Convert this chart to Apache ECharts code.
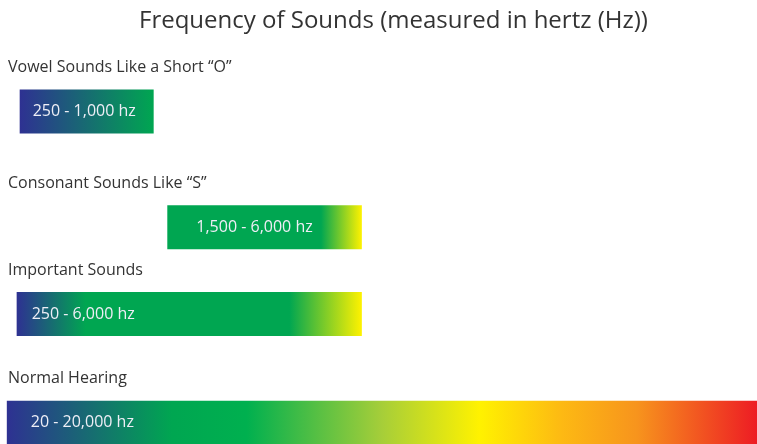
<!DOCTYPE html>
<html>
<head>
<meta charset="utf-8">
<script src="https://cdn.jsdelivr.net/npm/echarts@6/dist/echarts.min.js"></script>
<style>
html,body{margin:0;padding:0;background:#fff;}
#chart{width:757px;height:444px;}
</style>
</head>
<body>
<div id="chart"></div>
<script>
// ---- data ----
const titleText = 'Frequency of Sounds (measured in hertz (Hz))';
const categories = ['Vowel Sounds Like a Short \u201cO\u201d', 'Consonant Sounds Like \u201cS\u201d', 'Important Sounds', 'Normal Hearing'];
const rangeLabels = ['250 - 1,000 hz', '1,500 - 6,000 hz', '250 - 6,000 hz', '20 - 20,000 hz'];
// bar extents on the picture's unlabelled (non-linear) frequency strip, 0..100
const barStart = [2.6, 22.1, 2.2, 0.9];
const barEnd = [20.3, 47.8, 47.8, 100];

// ---- styles ----
const BLUE = '#2e3192', GREEN = '#00a651', YELLOW = '#fff200';
const gradients = [
  [[0, BLUE], [1, GREEN]],
  [[0, GREEN], [0.79, GREEN], [1, YELLOW]],
  [[0, BLUE], [0.2, GREEN], [0.79, GREEN], [1, YELLOW]],
  [[0, BLUE], [0.22, GREEN], [0.32, '#00b04f'], [0.5, '#a6ce39'], [0.63, YELLOW], [0.74, '#fdb913'], [0.84, '#f7941d'], [1, '#ed1c24']]
];
const textInset = [13, 29, 15, 24];
const rowNudge = [0, 12, -5, 0];   // uneven vertical spacing of the original layout (px)
const FONT = 'Open Sans';
const GRID_TOP = 59.7, ROW_PITCH = 103.7, CHART_H = 444;

const chart = echarts.init(document.getElementById('chart'));
const data = categories.map((c, i) => [barStart[i], barEnd[i], i]);

chart.setOption({
  animation: false,
  title: {
    text: titleText,
    left: 134, top: 4,
    textStyle: { fontFamily: FONT, fontSize: 24, fontWeight: 'normal', color: '#333' }
  },
  grid: { left: 0, right: 0, top: GRID_TOP, bottom: 0 },
  xAxis: { type: 'value', min: 0, max: 100, show: false },
  yAxis: { type: 'value', inverse: true, min: -0.5, max: -0.5 + (CHART_H - GRID_TOP) / ROW_PITCH, show: false },
  series: [{
    type: 'custom',
    encode: { x: [0, 1], y: 2 },
    data: data,
    clip: false,
    renderItem: function (params, api) {
      const i = api.value(2);
      const p0 = api.coord([api.value(0), i]);
      const p1 = api.coord([api.value(1), i]);
      const h = 44;
      const cy = p0[1] + rowNudge[i];
      const top = cy - h / 2;
      return {
        type: 'group',
        children: [
          {
            type: 'rect',
            shape: { x: p0[0], y: top, width: p1[0] - p0[0], height: h },
            style: { fill: new echarts.graphic.LinearGradient(0, 0, 1, 0, gradients[i].map(s => ({ offset: s[0], color: s[1] }))) }
          },
          {
            type: 'text',
            style: {
              x: p0[0] + textInset[i], y: cy,
              text: rangeLabels[i],
              fill: '#eeeef6', font: '16px "' + FONT + '"',
              textAlign: 'left', textVerticalAlign: 'middle'
            }
          },
          {
            type: 'text',
            style: {
              x: 8, y: top - 22,
              text: categories[i],
              fill: '#333', font: '16px "' + FONT + '"',
              textAlign: 'left', textVerticalAlign: 'middle'
            }
          }
        ]
      };
    }
  }]
});
</script>
</body>
</html>
